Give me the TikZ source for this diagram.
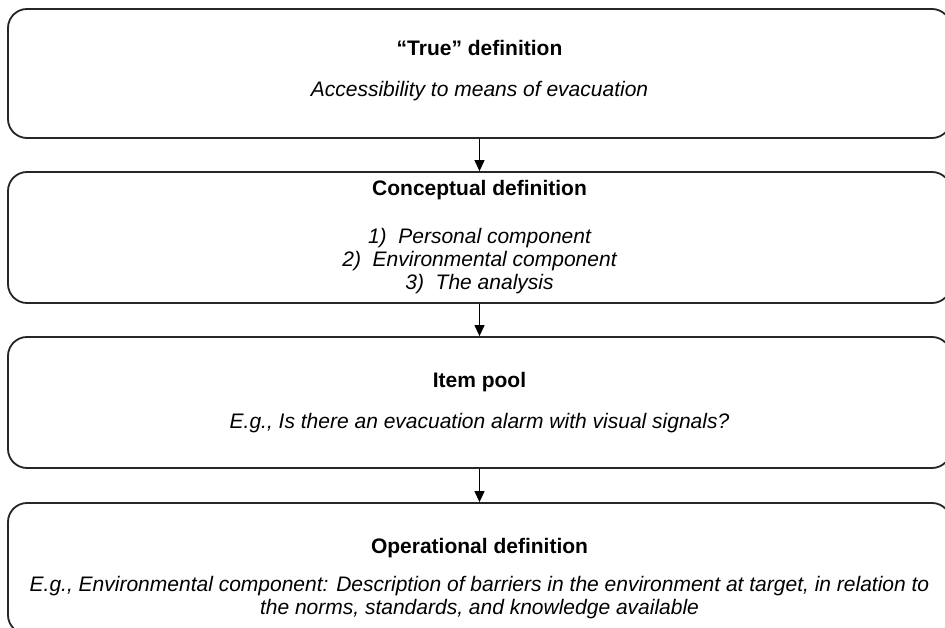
\documentclass[tikz,border=0pt]{standalone}
\usepackage{fontspec}
\setmainfont{Liberation Sans}
\usetikzlibrary{arrows.meta}
\begin{document}
\begin{tikzpicture}[x=1pt,y=-1pt,
  box/.style={draw=black!85,line width=1.8pt,rounded corners=19pt,minimum width=943pt,minimum height=131pt,inner sep=0pt},
  ttl/.style={anchor=base,inner sep=0pt,font=\fontsize{21}{24}\selectfont\bfseries},
  txt/.style={anchor=base,inner sep=0pt,align=center,font=\fontsize{21}{24}\selectfont\itshape},
  conn/.style={line width=1.2pt,-{Triangle[length=11pt,width=10pt]}}]
\useasboundingbox (0,0) rectangle (945,628);
\node[box,minimum height=129pt] (b1) at (479.5,73.5) {};
\node[box] (b2) at (479.5,237.5) {};
\node[box] (b3) at (479.5,402.5) {};
\node[box] (b4) at (479.5,568.5) {};
\node[ttl] (t1) at (479.5,56) {“True” definition};
\node[txt] (s1) at (479.5,97) {Accessibility to means of evacuation};
\node[ttl] (t2) at (479.5,196) {Conceptual definition};
\node[txt] (s2a) at (479.5,244) {1)\ \ Personal component};
\node[txt] (s2b) at (479.5,267) {2)\ \ Environmental component};
\node[txt] (s2c) at (479.5,290) {3)\ \ The analysis};
\node[ttl] (t3) at (479.5,387) {Item pool};
\node[txt] (s3) at (479.5,428) {E.g., Is there an evacuation alarm with visual signals?};
\node[ttl] (t4) at (479.5,553) {Operational definition};
\node[txt] (s4a) at (479.5,591) {E.g., Environmental component: Description of barriers in the environment at target, in relation to};
\node[txt] (s4b) at (479.5,614) {the norms, standards, and knowledge available};
\draw[conn] (b1.south) -- (b2.north);
\draw[conn] (b2.south) -- (b3.north);
\draw[conn] (b3.south) -- (b4.north);
\end{tikzpicture}
\end{document}
